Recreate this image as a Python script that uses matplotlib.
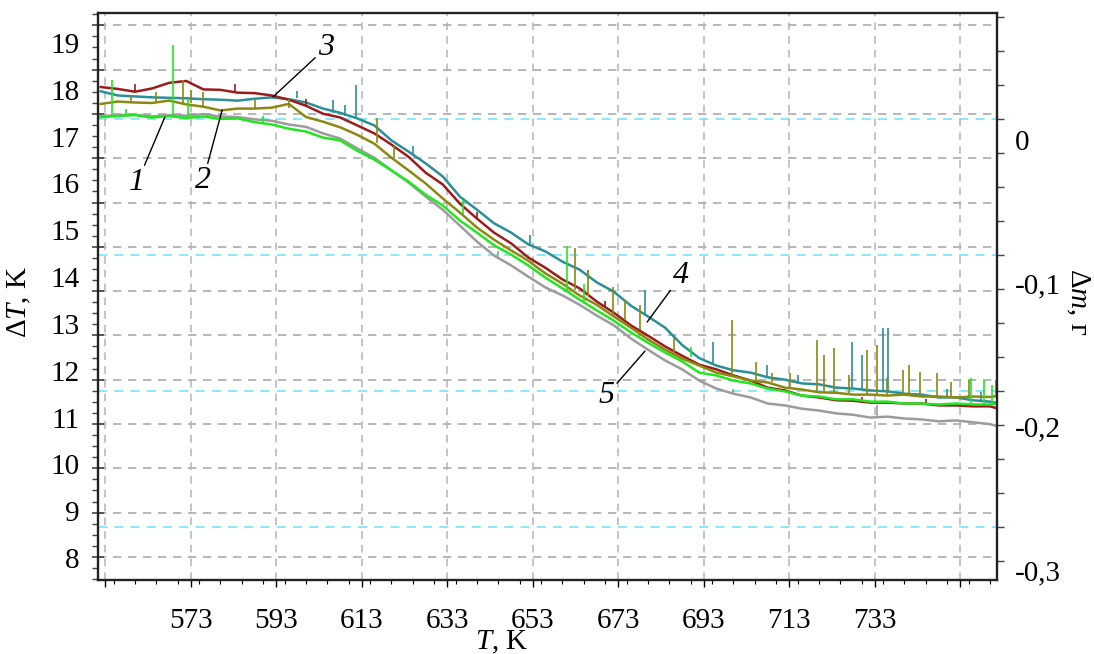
import numpy as np
import matplotlib.pyplot as plt
from matplotlib.ticker import MultipleLocator

plt.rcParams['font.family'] = ['Liberation Serif', 'DejaVu Serif']
plt.rcParams['mathtext.fontset'] = 'custom'
plt.rcParams['mathtext.rm'] = 'Liberation Serif'
plt.rcParams['mathtext.it'] = 'Liberation Serif:italic'

# температура, К
T = [552, 556, 560, 564, 568, 572, 576, 580, 584, 588, 592, 596, 600, 604,
     608, 612, 616, 620, 624, 628, 632, 636, 640, 644, 648, 652, 656, 660,
     664, 668, 672, 676, 680, 684, 688, 692, 696, 700, 704, 708, 712, 716,
     720, 724, 728, 732, 736, 740, 744, 748, 752, 756, 760, 761.6]

# ΔT, K для пяти кривых
dT1 = [17.42, 17.44, 17.46, 17.41, 17.44, 17.40, 17.43, 17.38, 17.39, 17.31, 17.26, 17.17,
       17.11, 16.98, 16.92, 16.70, 16.51, 16.28, 16.04, 15.76, 15.53, 15.21, 14.95, 14.68,
       14.48, 14.25, 13.99, 13.76, 13.52, 13.29, 13.07, 12.82, 12.60, 12.39, 12.20, 11.96,
       11.90, 11.79, 11.73, 11.62, 11.56, 11.47, 11.45, 11.39, 11.39, 11.34, 11.34, 11.30,
       11.30, 11.28, 11.30, 11.28, 11.28, 11.30]
dT2 = [17.70, 17.75, 17.73, 17.72, 17.77, 17.69, 17.64, 17.56, 17.60, 17.60, 17.62, 17.70,
       17.42, 17.32, 17.20, 17.04, 16.85, 16.55, 16.28, 16.00, 15.68, 15.38, 15.06, 14.80,
       14.57, 14.35, 14.08, 13.86, 13.61, 13.41, 13.16, 12.92, 12.67, 12.45, 12.26, 12.11,
       11.96, 11.88, 11.79, 11.75, 11.64, 11.60, 11.54, 11.53, 11.49, 11.49, 11.47, 11.49,
       11.45, 11.45, 11.43, 11.45, 11.44, 11.46]
dT3 = [18.06, 18.02, 17.96, 18.03, 18.15, 18.19, 18.01, 18.00, 17.94, 17.93, 17.88, 17.79,
       17.66, 17.49, 17.41, 17.24, 17.07, 16.83, 16.57, 16.23, 15.98, 15.57, 15.25, 14.95,
       14.72, 14.42, 14.20, 13.95, 13.76, 13.48, 13.24, 12.97, 12.75, 12.52, 12.32, 12.13,
       12.03, 11.90, 11.79, 11.64, 11.58, 11.47, 11.43, 11.37, 11.36, 11.32, 11.32, 11.30,
       11.30, 11.26, 11.26, 11.24, 11.24, 11.20]
dT4 = [17.97, 17.88, 17.86, 17.84, 17.83, 17.82, 17.80, 17.79, 17.77, 17.81, 17.84, 17.80,
       17.73, 17.60, 17.51, 17.39, 17.24, 16.92, 16.68, 16.43, 16.15, 15.72, 15.44, 15.15,
       14.95, 14.70, 14.55, 14.33, 14.16, 13.89, 13.69, 13.39, 13.16, 12.92, 12.55, 12.27,
       12.11, 12.01, 11.96, 11.86, 11.81, 11.73, 11.71, 11.64, 11.62, 11.58, 11.56, 11.51,
       11.49, 11.43, 11.43, 11.37, 11.34, 11.31]
dT5 = [17.44, 17.46, 17.47, 17.43, 17.46, 17.45, 17.48, 17.43, 17.42, 17.37, 17.34, 17.26,
       17.21, 17.07, 16.96, 16.75, 16.55, 16.28, 16.02, 15.72, 15.44, 15.10, 14.76, 14.46,
       14.25, 14.01, 13.78, 13.61, 13.41, 13.18, 12.97, 12.69, 12.45, 12.22, 12.03, 11.79,
       11.62, 11.51, 11.43, 11.30, 11.26, 11.19, 11.15, 11.09, 11.06, 11.00, 11.02, 10.98,
       10.96, 10.92, 10.94, 10.90, 10.86, 10.82]

# выбросы: T, нижнее и верхнее значение
sp1_T = [554.6, 558.0, 568.9, 572.5, 590.0, 636.7, 661.1, 665.0, 690.0, 755.5, 758.5, 760.5]
sp1_lo = [17.44, 17.44, 17.44, 17.42, 17.28, 15.35, 13.72, 13.50, 12.30, 11.29, 11.29, 11.27]
sp1_hi = [18.21, 17.60, 18.96, 17.78, 17.45, 15.65, 14.67, 13.85, 12.50, 11.85, 11.80, 11.70]
sp2_T = [559.0, 565.0, 571.2, 573.0, 576.0, 588.0, 596.0, 616.6, 620.5, 663.0, 666.0,
         671.8, 674.6, 678.1, 686.0, 699.7, 705.3, 709.0, 713.2, 719.5, 721.2, 723.5,
         727.0, 731.2, 733.6, 736.0, 739.7, 741.1, 743.6, 747.6, 751.0, 755.0, 761.5]
sp2_lo = [17.73, 17.72, 17.70, 17.72, 17.65, 17.60, 17.62, 16.86, 16.55, 13.72, 13.60,
          13.19, 13.08, 12.87, 12.40, 11.87, 11.78, 11.75, 11.65, 11.55, 11.55, 11.52,
          11.50, 11.48, 11.48, 11.48, 11.48, 11.48, 11.46, 11.44, 11.44, 11.45, 11.46]
sp2_hi = [17.90, 17.95, 18.21, 18.00, 17.95, 17.80, 17.80, 17.40, 16.80, 14.62, 14.15,
          13.79, 13.51, 13.40, 12.70, 13.08, 12.19, 11.95, 11.95, 12.66, 12.34, 12.49,
          11.90, 12.44, 12.55, 11.85, 12.02, 12.12, 11.97, 11.95, 11.75, 11.80, 11.80]
sp3_T = [560.0, 583.4, 600.0, 640.0, 670.0, 730.0, 745.0]
sp3_lo = [17.97, 17.95, 17.66, 15.25, 13.36, 11.32, 11.28]
sp3_hi = [18.12, 18.12, 17.80, 15.40, 13.50, 11.45, 11.40]
sp4_T = [598.0, 606.3, 609.1, 611.6, 625.0, 652.4, 666.0, 679.2, 695.2, 707.9, 715.0,
         727.7, 730.0, 735.0, 736.2, 750.0, 758.0]
sp4_lo = [17.82, 17.50, 17.45, 17.40, 16.60, 14.71, 13.95, 13.19, 12.14, 11.87, 11.73,
          11.61, 11.59, 11.55, 11.55, 11.45, 11.36]
sp4_hi = [17.98, 17.78, 17.68, 18.10, 16.80, 14.90, 14.15, 13.72, 12.61, 12.12, 11.90,
          12.61, 12.34, 12.91, 12.91, 11.60, 11.55]
sp5_T = [645.0, 700.0, 733.6]
sp5_lo = [14.40, 11.51, 11.01]
sp5_hi = [14.55, 11.62, 11.27]

x_grid = [553, 573, 593, 613, 633, 653, 673, 693, 713, 733, 753]
x_labels = ['', '573', '593', '613', '633', '653', '673', '693', '713', '733', '']
y_left = [8, 9, 10, 11, 12, 13, 14, 15, 16, 17, 18, 19]
y_right = [0, -0.1, -0.2, -0.3]
y_right_labels = ['0', '-0,1', '-0,2', '-0,3']

c_red = '#9b1c1c'
c_teal = '#2b8f97'
c_olive = '#8b8912'
c_green = '#22e622'
c_gray = '#9c9c9c'

fs = 21

fig = plt.figure(figsize=(10.94, 6.54), dpi=100)
pos = [0.0896, 0.1131, 0.8218, 0.8674]

# сетка и риски левой оси (исходная шкала прибора)
axg = fig.add_axes(pos, zorder=0)
axg.set_ylim(0.478, 13.284)
axg.set_xlim(0, 1)
axg.yaxis.set_major_locator(MultipleLocator(1))
axg.yaxis.set_minor_locator(MultipleLocator(0.25))
axg.tick_params(axis='y', which='major', direction='inout', length=8, width=1.2,
                color='#444444', labelleft=False)
axg.tick_params(axis='y', which='minor', direction='out', length=4, width=1.0,
                color='#444444')
axg.tick_params(axis='x', which='both', length=0, labelbottom=False)
axg.grid(axis='y', which='major', color='#aaaaaa', linestyle=(0, (5, 4)), lw=1.2)
for s in axg.spines.values():
    s.set_visible(False)
axg.patch.set_visible(False)

# риски правой оси и голубая сетка
axc = fig.add_axes(pos, zorder=0)
axc.set_ylim(-0.574, 16.135)
axc.set_xlim(0, 1)
axc.yaxis.tick_right()
axc.set_yticks([1, 5, 9, 13])
axc.yaxis.set_minor_locator(MultipleLocator(1))
axc.tick_params(axis='y', which='both', direction='out', length=5, width=1.0,
                color='#444444', labelright=False)
axc.tick_params(axis='x', which='both', length=0, labelbottom=False)
axc.grid(axis='y', which='major', color='#7fe8f4', linestyle=(0, (5, 4)), lw=1.3)
for s in axc.spines.values():
    s.set_visible(False)
axc.patch.set_visible(False)

ax = fig.add_axes(pos, zorder=2)
ax.patch.set_visible(False)
ax.set_xlim(551.36, 761.66)
ax.set_ylim(7.53, 19.647)

lw = 1.8
ax.plot(T, dT5, color=c_gray, lw=lw)
ax.vlines(sp5_T, sp5_lo, sp5_hi, color=c_gray, lw=1.2)
ax.plot(T, dT4, color=c_teal, lw=lw)
ax.vlines(sp4_T, sp4_lo, sp4_hi, color=c_teal, lw=1.2)
ax.plot(T, dT3, color=c_red, lw=lw)
ax.vlines(sp3_T, sp3_lo, sp3_hi, color=c_red, lw=1.2)
ax.plot(T, dT2, color=c_olive, lw=lw)
ax.vlines(sp2_T, sp2_lo, sp2_hi, color=c_olive, lw=1.2)
ax.plot(T, dT1, color=c_green, lw=lw)
ax.vlines(sp1_T, sp1_lo, sp1_hi, color=c_green, lw=1.2)

ax.set_xticks(x_grid)
ax.set_xticklabels(x_labels)
ax.xaxis.set_minor_locator(MultipleLocator(5))
ax.tick_params(axis='x', which='major', direction='out', length=5, width=1.0,
               pad=15, labelsize=fs)
ax.tick_params(axis='x', which='minor', direction='out', length=3, width=0.8)
ax.grid(axis='x', color='#b4b4b4', linestyle=(0, (5, 4)), lw=1.1)

ax.set_yticks(y_left)
ax.tick_params(axis='y', length=0, pad=13, labelsize=fs)
for s in ax.spines.values():
    s.set_linewidth(1.7)
    s.set_color('#222222')

ax2 = ax.twinx()
ax2.set_ylim(-0.307, 0.0888)
ax2.set_yticks(y_right)
ax2.set_yticklabels(y_right_labels)
ax2.tick_params(axis='y', length=0, pad=13, labelsize=fs)
for s in ax2.spines.values():
    s.set_visible(False)

ax.set_xlabel(r'$T$, K', fontsize=fs)
ax.xaxis.set_label_coords(0.449, -0.085)
ax.set_ylabel(r'$\Delta T$, K', fontsize=fs)
ax.yaxis.set_label_coords(-0.072, 0.49)
ax2.set_ylabel(r'$\Delta m$, г', fontsize=fs, rotation=-90, va='center')
ax2.yaxis.set_label_coords(1.09, 0.49)

# номера кривых
arr = dict(arrowstyle='-', color='black', lw=1.0, shrinkA=0, shrinkB=0)
ax.annotate('1', xy=(567.0, 17.42), xytext=(562.4, 16.33), fontsize=23,
            style='italic', ha='right', va='top', arrowprops=arr)
ax.annotate('2', xy=(580.4, 17.57), xytext=(577.8, 16.37), fontsize=23,
            style='italic', ha='right', va='top', arrowprops=arr)
ax.annotate('3', xy=(592.3, 17.85), xytext=(602.8, 18.59), fontsize=23,
            style='italic', ha='left', va='bottom', arrowprops=arr)
ax.annotate('4', xy=(679.8, 13.04), xytext=(685.9, 13.72), fontsize=23,
            style='italic', ha='left', va='bottom', arrowprops=arr)
ax.annotate('5', xy=(679.3, 12.42), xytext=(672.1, 11.78), fontsize=23,
            style='italic', ha='right', va='top', arrowprops=arr)

fig.savefig('out.png', dpi=100)
